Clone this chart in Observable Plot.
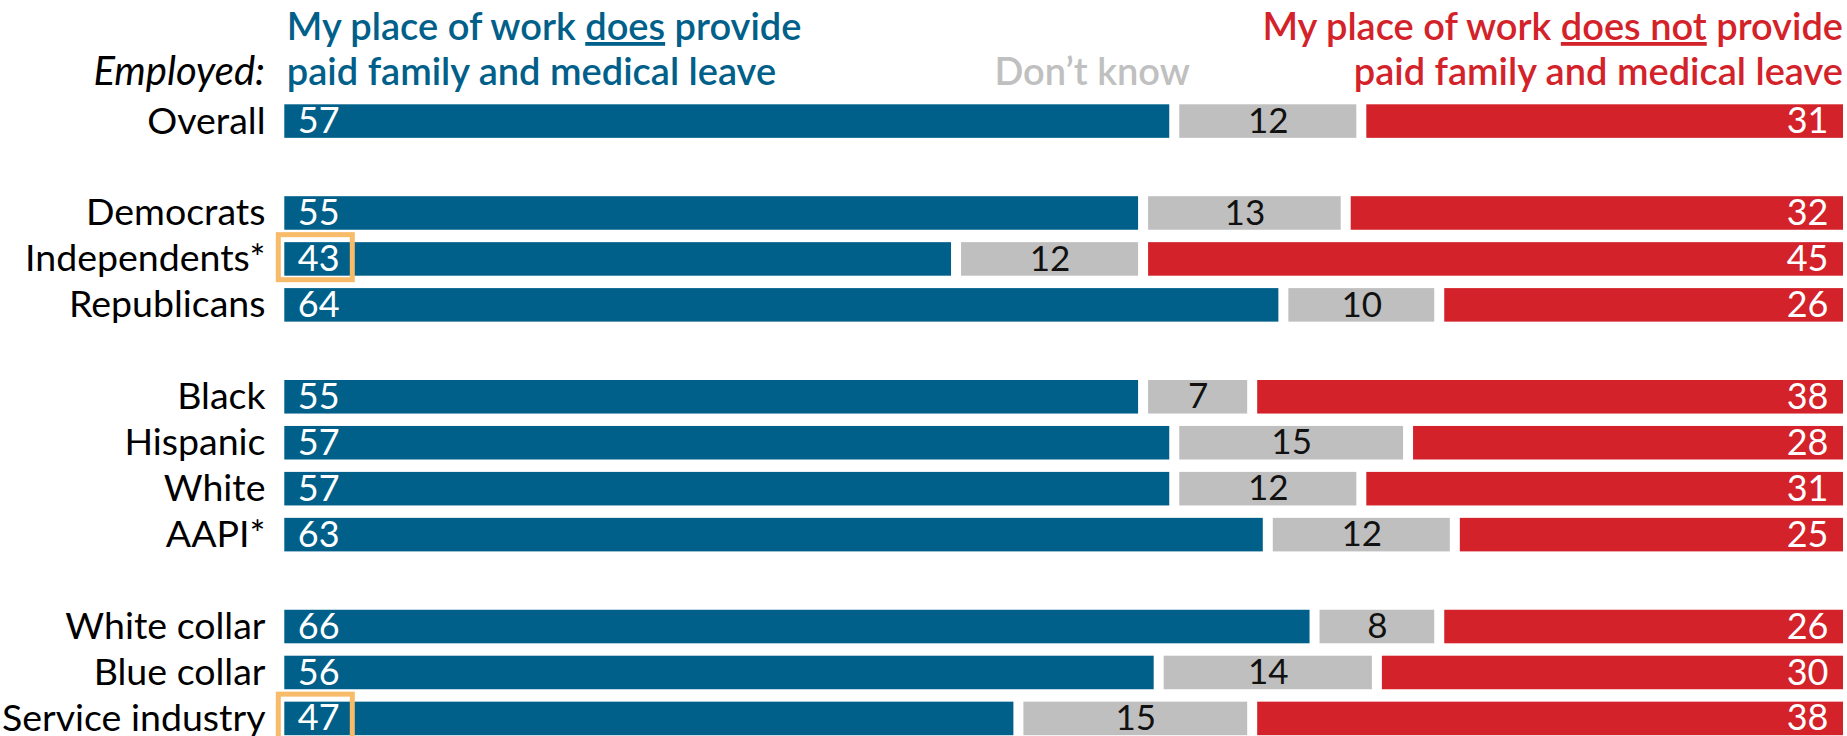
<!DOCTYPE html>
<html>
<head>
<meta charset="utf-8">
<script src="https://cdn.jsdelivr.net/npm/d3@7"></script>
<script src="https://cdn.jsdelivr.net/npm/@observablehq/plot@0.6"></script>
<style>
  html, body { margin: 0; padding: 0; background: #ffffff; }
  #chart svg { display: block; }
</style>
</head>
<body>
<div id="chart"></div>
<script>
// ---- data ----
const categories = ["Overall", "Democrats", "Independents*", "Republicans", "Black", "Hispanic", "White", "AAPI*", "White collar", "Blue collar", "Service industry"];
const does =     [57, 55, 43, 64, 55, 57, 57, 63, 66, 56, 47];
const dontKnow = [12, 13, 12, 10,  7, 15, 12, 12,  8, 14, 15];
const doesNot =  [31, 32, 45, 26, 38, 28, 31, 25, 26, 30, 38];
// row order, with blank spacer rows between groups
const rowOrder = ["Overall", "gap1", "Democrats", "Independents*", "Republicans", "gap2", "Black", "Hispanic", "White", "AAPI*", "gap3", "White collar", "Blue collar", "Service industry"];
const highlighted = ["Independents*", "Service industry"];

const BLUE = "#00608a";
const GRAY = "#bfbfbf";
const RED = "#d32229";
const FONT = "Lato, 'Open Sans', sans-serif";

const rows = categories.map((c, i) => ({
  category: c,
  does: does[i],
  dk: dontKnow[i],
  dn: doesNot[i]
}));

const plot = Plot.plot({
  width: 1847,
  height: 736,
  marginLeft: 284.3,
  marginRight: 4,
  marginTop: 104.3,
  marginBottom: 0.8,
  style: { fontFamily: FONT, fontSize: "38px", background: "#ffffff", color: "#000" },
  x: { domain: [0, 100], axis: null },
  y: { domain: rowOrder, paddingInner: 0.27, paddingOuter: 0, align: 0, round: false, axis: null, label: null },
  marks: [
    Plot.barX(rows, { y: "category", x1: 0, x2: d => d.does, fill: BLUE, insetRight: 3.5 }),
    Plot.barX(rows, { y: "category", x1: d => d.does, x2: d => d.does + d.dk, fill: GRAY, insetLeft: 6.5, insetRight: 3.5 }),
    Plot.barX(rows, { y: "category", x1: d => d.does + d.dk, x2: d => d.does + d.dk + d.dn, fill: RED, insetLeft: 6.5 }),
    Plot.text(rows, { y: "category", x: 0, text: d => String(d.does), textAnchor: "start", dx: 13, fill: "#fff", fontSize: 36 }),
    Plot.text(rows, { y: "category", x: d => d.does + d.dk / 2, text: d => String(d.dk), dx: 1.5, fill: "#111", fontSize: 35 }),
    Plot.text(rows, { y: "category", x: d => d.does + d.dk + d.dn, text: d => String(d.dn), textAnchor: "end", dx: -15, fill: "#fff", fontSize: 36 }),
    Plot.barX(highlighted, { y: d => d, x1: 0, x2: 0, insetLeft: -6, insetRight: -68, insetTop: -7.5, insetBottom: -4, fill: "none", stroke: "#f8bb6a", strokeWidth: 5 }),
    Plot.axisY({ ticks: categories, tickSize: 0, tickPadding: 19.3, fontSize: 37.5, fill: "#000", label: null })
  ]
});

document.getElementById("chart").appendChild(plot);

// ---- header annotations (real SVG text) ----
const xs = plot.scale("x");
const left = xs.apply(0);
const right = xs.apply(100);
const svg = d3.select(plot);
const g = svg.append("g").attr("font-family", FONT).attr("font-size", 38);

function titleLine(x, y, anchor, color, parts, weight) {
  const t = g.append("text").attr("x", x).attr("y", y).attr("text-anchor", anchor)
    .attr("fill", color).attr("font-weight", weight || 600);
  parts.forEach(p => {
    const ts = t.append("tspan").text(p.text);
    if (p.underline) ts.attr("text-decoration", "underline");
  });
  return t;
}

titleLine(left + 2.5, 40, "start", BLUE, [{ text: "My place of work " }, { text: "does", underline: true }, { text: " provide" }]);
titleLine(left + 2.5, 85, "start", BLUE, [{ text: "paid family and medical leave" }]);
titleLine(right, 40, "end", RED, [{ text: "My place of work " }, { text: "does not", underline: true }, { text: " provide" }]);
titleLine(right, 85, "end", RED, [{ text: "paid family and medical leave" }]);
titleLine(xs.apply(58.1), 85, "end", "#c0c0c0", [{ text: "Don\u2019t know" }]);
g.append("text").attr("x", left - 19.3).attr("y", 85).attr("text-anchor", "end")
  .attr("font-style", "italic").attr("font-size", 40).attr("fill", "#000").text("Employed:");
</script>
</body>
</html>
